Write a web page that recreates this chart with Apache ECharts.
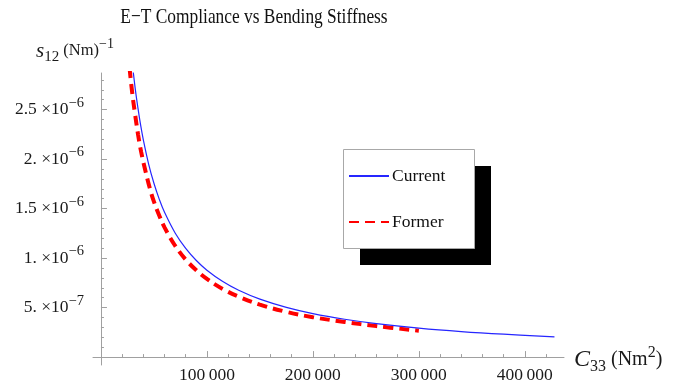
<!DOCTYPE html>
<html>
<head>
<meta charset="utf-8">
<script src="https://cdn.jsdelivr.net/npm/echarts@6/dist/echarts.min.js"></script>
<style>
  html, body { margin: 0; padding: 0; background: #fff; }
  #chart { width: 673px; height: 388px; }
</style>
</head>
<body>
<div id="chart"></div>
<script>
// Bending stiffness C33 (Nm^2) and compliance s12 ((Nm)^-1) for the two models
const currentX = [30000, 32500, 35000, 37500, 40000, 45000, 50000, 55000, 60000, 70000, 80000, 90000, 100000, 115000, 130000, 150000, 175000, 200000, 230000, 260000, 300000, 340000, 380000, 428000];
const currentY = [2.927e-6, 2.70e-6, 2.51e-6, 2.34e-6, 2.195e-6, 1.95e-6, 1.756e-6, 1.596e-6, 1.463e-6, 1.254e-6, 1.098e-6, 9.76e-7, 8.78e-7, 7.63e-7, 6.75e-7, 5.85e-7, 5.02e-7, 4.39e-7, 3.82e-7, 3.38e-7, 2.93e-7, 2.58e-7, 2.31e-7, 2.05e-7];
const formerX = [27000, 29500, 32000, 35000, 38000, 42000, 46000, 50000, 55000, 60000, 70000, 80000, 90000, 100000, 115000, 130000, 150000, 175000, 200000, 230000, 260000, 300000];
const formerY = [2.92e-6, 2.67e-6, 2.47e-6, 2.25e-6, 2.07e-6, 1.88e-6, 1.71e-6, 1.57e-6, 1.43e-6, 1.31e-6, 1.125e-6, 9.85e-7, 8.77e-7, 7.9e-7, 6.88e-7, 6.1e-7, 5.3e-7, 4.57e-7, 4.03e-7, 3.55e-7, 3.13e-7, 2.67e-7];

// Tick positions
const xMajorTicks = [100000, 200000, 300000, 400000];
const xMinorTicks = [20000, 40000, 60000, 80000, 120000, 140000, 160000, 180000, 220000, 240000, 260000, 280000, 320000, 340000, 360000, 380000, 420000];
const yMajorTicks = [5e-7, 1e-6, 1.5e-6, 2e-6, 2.5e-6];
const yMinorTicks = [1e-7, 2e-7, 3e-7, 4e-7, 6e-7, 7e-7, 8e-7, 9e-7, 1.1e-6, 1.2e-6, 1.3e-6, 1.4e-6, 1.6e-6, 1.7e-6, 1.8e-6, 1.9e-6, 2.1e-6, 2.2e-6, 2.3e-6, 2.4e-6, 2.6e-6, 2.7e-6, 2.8e-6];

const titleText = 'E\u2212T Compliance vs Bending Stiffness';
const seriesNames = ['Current', 'Former'];

const SERIF = '"Liberation Serif", "Times New Roman", serif';
const AXIS_GRAY = '#a0a0a0';
const LABEL = '#1a1a1a';
const X_RANGE = [-7500, 437000];
const Y_RANGE = [-0.8e-7, 2.87e-6];

// Legend frame (box with a solid drop shadow)
const LEGEND_BOX = { x: 343, y: 149, width: 131, height: 99 };
const LEGEND_SHADOW = 17;

function pairs(xs, ys) { return xs.map((x, i) => [x, ys[i]]); }

function sciLabel(v) {
  const e = Math.floor(Math.log10(v) + 1e-9);
  const m = Math.round(v / Math.pow(10, e) * 10) / 10;
  const ms = Number.isInteger(m) ? m + '.' : String(m);
  return '{b|' + ms + ' \u00d710}{sup|\u2212' + (-e) + '}';
}
function groupedLabel(v) {
  return String(Math.round(v)).replace(/\B(?=(\d{3})+(?!\d))/g, '\u2009');
}

const chart = echarts.init(document.getElementById('chart'), null, { renderer: 'canvas' });

chart.setOption({
  animation: false,
  backgroundColor: '#fff',
  textStyle: { fontFamily: SERIF },
  graphic: [{
    type: 'text',
    x: 254, y: 17,
    scaleX: 0.79,
    style: {
      text: titleText,
      font: '22px ' + SERIF,
      fill: '#111',
      textAlign: 'center',
      textVerticalAlign: 'middle'
    }
  }, {
    type: 'rect', z: 3,
    shape: {
      x: LEGEND_BOX.x + LEGEND_SHADOW, y: LEGEND_BOX.y + LEGEND_SHADOW,
      width: LEGEND_BOX.width, height: LEGEND_BOX.height
    },
    style: { fill: '#000' }
  }, {
    type: 'rect', z: 3,
    shape: {
      x: LEGEND_BOX.x + 0.5, y: LEGEND_BOX.y + 0.5,
      width: LEGEND_BOX.width, height: LEGEND_BOX.height
    },
    style: { fill: '#fff', stroke: '#a8a8a8', lineWidth: 1 }
  }],
  legend: {
    data: seriesNames,
    orient: 'vertical',
    left: LEGEND_BOX.x, top: LEGEND_BOX.y,
    padding: [18, 27, 17, 5],
    itemGap: 28,
    itemWidth: 40,
    itemHeight: 14,
    z: 4,
    backgroundColor: 'transparent',
    borderWidth: 0,
    itemStyle: { opacity: 0 },
    textStyle: { fontFamily: SERIF, fontSize: 17.5, color: '#111', padding: [0, 0, 0, -2] }
  },
  grid: { left: 93, right: 109, top: 73, bottom: 23, containLabel: false },
  xAxis: [{
    type: 'value', min: X_RANGE[0], max: X_RANGE[1],
    axisLine: { show: true, onZero: true, lineStyle: { color: AXIS_GRAY, width: 1 } },
    axisTick: { show: true, inside: true, length: 6, customValues: xMajorTicks, lineStyle: { color: AXIS_GRAY } },
    axisLabel: { customValues: xMajorTicks, formatter: groupedLabel, fontFamily: SERIF, fontSize: 17.5, color: LABEL, margin: 1 },
    splitLine: { show: false },
    name: '{i|C}{sub|33}{t| (Nm}{sup|2}{t|)}',
    nameLocation: 'end', nameGap: 10,
    nameTextStyle: {
      padding: [6, 0, 0, 0],
      rich: {
        i: { fontFamily: SERIF, fontStyle: 'italic', fontSize: 24, color: LABEL, lineHeight: 30 },
        sub: { fontFamily: SERIF, fontSize: 16, color: LABEL, lineHeight: 14, verticalAlign: 'bottom' },
        t: { fontFamily: SERIF, fontSize: 20, color: LABEL, lineHeight: 30 },
        sup: { fontFamily: SERIF, fontSize: 16, color: LABEL, lineHeight: 14, verticalAlign: 'top' }
      }
    }
  }, {
    type: 'value', min: X_RANGE[0], max: X_RANGE[1], position: 'bottom',
    axisLine: { show: false, onZero: true },
    axisTick: { show: true, inside: true, length: 3, customValues: xMinorTicks, lineStyle: { color: AXIS_GRAY } },
    axisLabel: { show: false },
    splitLine: { show: false }
  }],
  yAxis: [{
    type: 'value', min: Y_RANGE[0], max: Y_RANGE[1],
    axisLine: { show: true, onZero: true, lineStyle: { color: AXIS_GRAY, width: 1 } },
    axisTick: { show: true, inside: true, length: 6, customValues: yMajorTicks, lineStyle: { color: AXIS_GRAY } },
    axisLabel: {
      customValues: yMajorTicks, formatter: sciLabel, margin: 9,
      rich: {
        b: { fontFamily: SERIF, fontSize: 17.5, color: LABEL, lineHeight: 28 },
        sup: { fontFamily: SERIF, fontSize: 14.5, color: LABEL, lineHeight: 13, verticalAlign: 'top' }
      }
    },
    splitLine: { show: false },
    name: '{i|s}{sub|12}{t| (Nm)}{sup|\u22121}',
    nameLocation: 'end', nameGap: 8,
    nameTextStyle: {
      align: 'center',
      padding: [0, 52, 0, 0],
      rich: {
        i: { fontFamily: SERIF, fontStyle: 'italic', fontSize: 21, color: LABEL, lineHeight: 28 },
        sub: { fontFamily: SERIF, fontSize: 15, color: LABEL, lineHeight: 13, verticalAlign: 'bottom' },
        t: { fontFamily: SERIF, fontSize: 16.5, color: LABEL, lineHeight: 28 },
        sup: { fontFamily: SERIF, fontSize: 14, color: LABEL, lineHeight: 13, verticalAlign: 'top' }
      }
    }
  }, {
    type: 'value', min: Y_RANGE[0], max: Y_RANGE[1], position: 'left',
    axisLine: { show: false, onZero: true },
    axisTick: { show: true, inside: true, length: 3, customValues: yMinorTicks, lineStyle: { color: AXIS_GRAY } },
    axisLabel: { show: false },
    splitLine: { show: false }
  }],
  series: [{
    name: seriesNames[0],
    type: 'line',
    data: pairs(currentX, currentY),
    xAxisIndex: 0, yAxisIndex: 0,
    symbol: 'none',
    smooth: 0.4,
    clip: true,
    lineStyle: { color: '#2626ff', width: 1.2 },
    itemStyle: { color: '#2626ff' },
    z: 2
  }, {
    name: seriesNames[1],
    type: 'line',
    data: pairs(formerX, formerY),
    xAxisIndex: 0, yAxisIndex: 0,
    symbol: 'none',
    smooth: 0.4,
    clip: true,
    lineStyle: { color: '#ff0000', width: 4, type: [10, 6] },
    itemStyle: { color: '#ff0000' },
    z: 1
  }]
});
</script>
</body>
</html>
